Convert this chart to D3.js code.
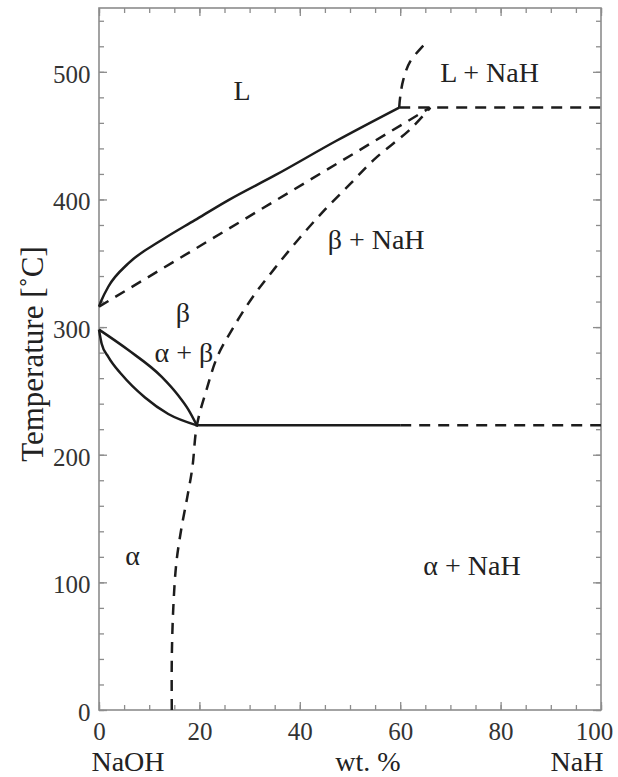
<!DOCTYPE html>
<html>
<head>
<meta charset="utf-8">
<script src="https://cdn.jsdelivr.net/npm/d3@7"></script>
<style>
  html, body { margin: 0; padding: 0; background: #fff; }
  svg { display: block; }
  .tick text { font-family: "Liberation Serif", "Times New Roman", serif; }
</style>
</head>
<body>
<svg id="chart" width="618" height="777"></svg>
<script>
// NaOH–NaH phase diagram: composition (wt.% NaH) vs temperature (°C)

// axis ticks
const xMajorTicks = [0, 20, 40, 60, 80, 100];
const xMinorTicks = d3.range(0, 101, 5);
const yMajorTicks = [0, 100, 200, 300, 400, 500];
const yMinorTicks = d3.range(0, 551, 20);

// liquidus (solid)
const liquidus = [[0, 316], [0.5, 321], [1.85, 331.6], [5.84, 349.9], [12.5, 368.2], [19.1, 383.8],
                  [25.8, 399.5], [35.1, 419], [47.3, 446], [59.8, 472]];
// solidus of β (dashed, straight)
const betaSolidus = [[0, 316], [66, 472]];
// β / β + NaH and α / α + NaH boundary (dashed)
const naHSolvus = [[14.5, 0], [14.5, 40], [14.8, 80], [15.4, 115], [16.4, 142], [17.5, 165], [18.6, 190],
                   [19.5, 223], [21.5, 252], [23.6, 277], [26.8, 300], [30.7, 324], [35, 346], [40, 370],
                   [45, 392], [50, 412], [55, 432], [62, 455], [66, 472]];
// α + β lens
const lensUpper = [[0, 298], [5.84, 282], [12.5, 261], [15.8, 246.4], [17.8, 235.4], [19.5, 223]];
const lensLower = [[0, 298], [0.53, 287], [1.85, 276.7], [4.52, 262.8], [9.16, 244.8], [13.8, 231.9], [19.5, 223]];
// eutectoid isotherm
const eutectoidSolid = [[19.5, 223], [60, 223]];
const eutectoidDashed = [[60, 223], [100, 223]];
// eutectic isotherm and NaH liquidus above it
const eutecticDashed = [[59.8, 472], [100, 472]];
const naHLiquidus = [[59.8, 472], [60.0, 480.4], [60.6, 493.5], [61.95, 507.8], [65.3, 523.5]];

// phase-field labels: [text, wt.%, °C]
const phaseLabels = [
  ["L", 28.5, 478],
  ["L + NaH", 77.8, 492],
  ["β + NaH", 55.2, 361],
  ["β", 16.7, 304],
  ["α + β", 16.9, 272.6],
  ["α", 6.7, 113.6],
  ["α + NaH", 74.3, 105.7]
];

const svg = d3.select("#chart");
const plotLeft = 99, plotRight = 601, plotTop = 8, plotBottom = 710;

const x = d3.scaleLinear().domain([0, 100]).range([plotLeft, plotRight]);
const y = d3.scaleLinear().domain([0, 550]).range([plotBottom, plotTop]);

const axisColor = "#8c8c8c";
const inkColor = "#1c1c1c";
const serif = "'Liberation Serif', 'Times New Roman', serif";

function styleAxis(g, showLabels) {
  g.select(".domain").remove();
  g.selectAll(".tick line").attr("stroke", axisColor).attr("stroke-width", 1.3);
  g.selectAll(".tick text")
    .attr("fill", "#333")
    .style("font-size", "25px")
    .style("display", showLabels ? null : "none");
}

// minor ticks
svg.append("g").attr("transform", `translate(0,${plotBottom})`)
  .call(d3.axisBottom(x).tickValues(xMinorTicks).tickSize(-5).tickFormat(""))
  .call(g => styleAxis(g, false));
svg.append("g").attr("transform", `translate(0,${plotTop})`)
  .call(d3.axisTop(x).tickValues(xMinorTicks).tickSize(-5).tickFormat(""))
  .call(g => styleAxis(g, false));
svg.append("g").attr("transform", `translate(${plotLeft},0)`)
  .call(d3.axisLeft(y).tickValues(yMinorTicks).tickSize(-5).tickFormat(""))
  .call(g => styleAxis(g, false));
svg.append("g").attr("transform", `translate(${plotRight},0)`)
  .call(d3.axisRight(y).tickValues(yMinorTicks).tickSize(-5).tickFormat(""))
  .call(g => styleAxis(g, false));

// major ticks
svg.append("g").attr("transform", `translate(0,${plotBottom})`)
  .call(d3.axisBottom(x).tickValues(xMajorTicks).tickSize(-8).tickPadding(12).tickFormat(d3.format("d")))
  .call(g => {
    styleAxis(g, true);
    // keep the last label inside the page
    g.selectAll(".tick text").filter(d => d === 100).attr("dx", -7);
  });
svg.append("g").attr("transform", `translate(0,${plotTop})`)
  .call(d3.axisTop(x).tickValues(xMajorTicks).tickSize(-8).tickFormat(""))
  .call(g => styleAxis(g, false));
svg.append("g").attr("transform", `translate(${plotLeft},0)`)
  .call(d3.axisLeft(y).tickValues(yMajorTicks).tickSize(-8).tickPadding(8.5).tickFormat(d3.format("d")))
  .call(g => { styleAxis(g, true); g.selectAll(".tick text").attr("dy", "0.42em"); });
svg.append("g").attr("transform", `translate(${plotRight},0)`)
  .call(d3.axisRight(y).tickValues(yMajorTicks).tickSize(-8).tickFormat(""))
  .call(g => styleAxis(g, false));

// frame
svg.append("rect")
  .attr("x", x(0)).attr("y", y(550))
  .attr("width", x(100) - x(0)).attr("height", y(0) - y(550))
  .attr("fill", "none").attr("stroke", axisColor).attr("stroke-width", 1.6);

// phase boundaries
const curve = d3.line().x(d => x(d[0])).y(d => y(d[1])).curve(d3.curveCatmullRom.alpha(0.5));
const smooth = d3.line().x(d => x(d[0])).y(d => y(d[1])).curve(d3.curveMonotoneX);
const straight = d3.line().x(d => x(d[0])).y(d => y(d[1]));

const boundaries = [
  { data: liquidus, gen: smooth, dashed: false },
  { data: betaSolidus, gen: straight, dashed: true },
  { data: naHSolvus, gen: curve, dashed: true },
  { data: lensUpper, gen: smooth, dashed: false },
  { data: lensLower, gen: smooth, dashed: false },
  { data: eutectoidSolid, gen: straight, dashed: false },
  { data: eutectoidDashed, gen: straight, dashed: true },
  { data: eutecticDashed, gen: straight, dashed: true },
  { data: naHLiquidus, gen: curve, dashed: true }
];

svg.append("g").selectAll("path")
  .data(boundaries)
  .join("path")
  .attr("d", d => d.gen(d.data))
  .attr("fill", "none")
  .attr("stroke", inkColor)
  .attr("stroke-width", 2.5)
  .attr("stroke-linejoin", "round")
  .attr("stroke-dasharray", d => d.dashed ? "11,8" : null);

// phase-field labels
svg.append("g").selectAll("text")
  .data(phaseLabels)
  .join("text")
  .attr("x", d => x(d[1]))
  .attr("y", d => y(d[2]))
  .attr("text-anchor", "middle")
  .attr("font-family", serif)
  .attr("font-size", 28)
  .attr("fill", "#222")
  .text(d => d[0]);

// axis titles
const bottomTitles = [["NaOH", 128], ["wt. %", 368], ["NaH", 577]];
svg.append("g").selectAll("text")
  .data(bottomTitles)
  .join("text")
  .attr("x", d => d[1])
  .attr("y", 771)
  .attr("text-anchor", "middle")
  .attr("font-family", serif)
  .attr("font-size", 28)
  .attr("fill", "#222")
  .text(d => d[0]);

svg.append("text")
  .attr("transform", "translate(42.5,354) rotate(-90)")
  .attr("text-anchor", "middle")
  .attr("font-family", serif)
  .attr("font-size", 31)
  .attr("fill", "#222")
  .text("Temperature [˚C]");
</script>
</body>
</html>
